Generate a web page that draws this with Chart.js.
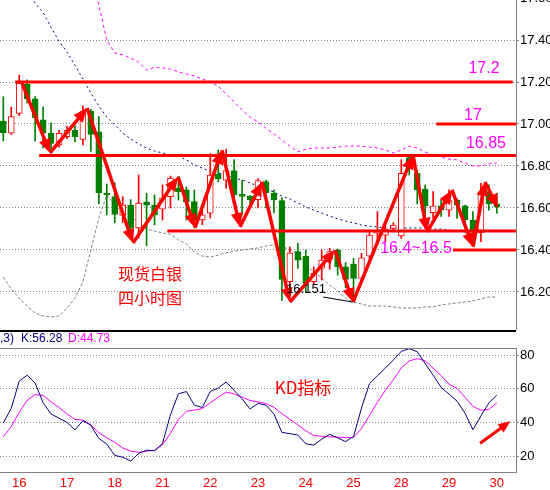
<!DOCTYPE html>
<html>
<head>
<meta charset="utf-8">
<script src="https://cdn.jsdelivr.net/npm/chart.js@4.4.0/dist/chart.umd.min.js"></script>
<style>
  html, body { margin: 0; padding: 0; background: #fff; }
  #wrap { position: relative; width: 550px; height: 490px; overflow: hidden; background: #fff; }
  #priceChart { position: absolute; left: 0; top: 0; }
  #kdChart { position: absolute; left: 0; top: 330px; }
</style>
</head>
<body>
<div id="wrap">
  <canvas id="priceChart" width="550" height="330"></canvas>
  <canvas id="kdChart" width="550" height="160"></canvas>
</div>
<script>
// 4 hour candles, 6 per trading day
const dayLabels = ['16', '17', '18', '21', '22', '23', '24', '25', '28', '29', '30'];
const dayStart = [2, 8, 14, 20, 26, 32, 38, 44, 50, 56, 62];

const opens = [17.014, 16.956, 17.05, 17.19, 17.12, 17.02, 16.956, 16.90, 16.94, 16.97,
  16.927, 17.06, 16.963, 16.67, 16.654, 16.565, 16.614, 16.505, 16.629, 16.614,
  16.595, 16.654, 16.695, 16.686, 16.63, 16.543, 16.575, 16.762, 16.733, 16.778,
  16.66, 16.657, 16.64, 16.726, 16.67, 16.635, 16.249, 16.392, 16.37, 16.249,
  16.313, 16.356, 16.40, 16.32, 16.333, 16.265, 16.37, 16.48, 16.47, 16.503,
  16.467, 16.84, 16.765, 16.69, 16.578, 16.61, 16.59, 16.638, 16.61, 16.543,
  16.483, 16.678, 16.62];
const highs = [17.13, 17.08, 17.233, 17.21, 17.13, 17.08, 17.006, 16.97, 16.99, 16.995,
  17.086, 17.07, 17.035, 16.714, 16.72, 16.654, 16.64, 16.757, 16.67, 16.662,
  16.71, 16.752, 16.75, 16.70, 16.686, 16.59, 16.86, 16.876, 16.88, 16.83,
  16.733, 16.66, 16.74, 16.733, 16.686, 16.648, 16.414, 16.432, 16.40, 16.32,
  16.40, 16.408, 16.405, 16.34, 16.36, 16.384, 16.495, 16.583, 16.53, 16.53,
  16.83, 16.85, 16.78, 16.71, 16.678, 16.638, 16.686, 16.646, 16.614, 16.583,
  16.717, 16.71, 16.67];
const lows = [16.92, 16.95, 17.04, 17.10, 16.92, 16.886, 16.868, 16.89, 16.93, 16.915,
  16.90, 16.87, 16.62, 16.567, 16.53, 16.53, 16.48, 16.457, 16.42, 16.52,
  16.543, 16.60, 16.638, 16.543, 16.505, 16.52, 16.552, 16.725, 16.694, 16.62,
  16.567, 16.62, 16.60, 16.60, 16.576, 16.16, 16.21, 16.313, 16.20, 16.233,
  16.257, 16.308, 16.28, 16.22, 16.165, 16.257, 16.36, 16.433, 16.44, 16.49,
  16.455, 16.757, 16.62, 16.543, 16.55, 16.56, 16.56, 16.55, 16.503, 16.424,
  16.44, 16.59, 16.575];
const closes = [16.959, 17.035, 17.195, 17.12, 17.03, 16.956, 16.908, 16.956, 16.97, 16.94,
  17.059, 16.95, 16.673, 16.662, 16.57, 16.614, 16.505, 16.624, 16.614, 16.567,
  16.648, 16.743, 16.678, 16.63, 16.543, 16.567, 16.757, 16.738, 16.778, 16.662,
  16.655, 16.64, 16.73, 16.673, 16.638, 16.26, 16.387, 16.352, 16.241, 16.289,
  16.352, 16.392, 16.32, 16.26, 16.265, 16.363, 16.471, 16.49, 16.50, 16.519,
  16.765, 16.80, 16.686, 16.61, 16.61, 16.59, 16.635, 16.614, 16.543, 16.487,
  16.673, 16.62, 16.605];

// bollinger bands
const bandUpper = [18.30, 18.25, 18.20, 18.15, 18.10, 18.05, 18.00, 17.95, 17.90, 17.85,
  17.80, 17.72, 17.567, 17.40, 17.338, 17.33, 17.314, 17.295, 17.257, 17.27,
  17.267, 17.262, 17.248, 17.238, 17.229, 17.214, 17.20, 17.18, 17.143, 17.105,
  17.067, 17.033, 17.01, 16.98, 16.952, 16.924, 16.895, 16.867, 16.88, 16.886,
  16.886, 16.886, 16.89, 16.895, 16.895, 16.895, 16.89, 16.886, 16.876, 16.862,
  16.876, 16.895, 16.886, 16.867, 16.852, 16.843, 16.833, 16.829, 16.814, 16.80,
  16.80, 16.81, 16.814];
const bandMid = [17.80, 17.74, 17.68, 17.63, 17.576, 17.53, 17.46, 17.395, 17.343, 17.28,
  17.214, 17.148, 17.086, 17.033, 16.995, 16.957, 16.929, 16.905, 16.886, 16.871,
  16.862, 16.852, 16.848, 16.829, 16.805, 16.79, 16.776, 16.767, 16.757, 16.743,
  16.733, 16.719, 16.705, 16.69, 16.676, 16.657, 16.643, 16.624, 16.605, 16.59,
  16.576, 16.562, 16.548, 16.538, 16.529, 16.519, 16.514, 16.51, 16.505, 16.505,
  16.505, 16.505, 16.505, 16.505, 16.50, 16.50, 16.495, 16.49, 16.486, 16.486,
  16.486, 16.49, 16.49];
const bandLower = [16.271, 16.214, 16.171, 16.133, 16.10, 16.086, 16.081, 16.086, 16.124, 16.171,
  16.248, 16.40, 16.552, 16.662, 16.614, 16.58, 16.557, 16.533, 16.50, 16.49,
  16.481, 16.476, 16.448, 16.429, 16.39, 16.371, 16.367, 16.376, 16.386, 16.395,
  16.40, 16.405, 16.41, 16.419, 16.424, 16.419, 16.40, 16.386, 16.329, 16.295,
  16.267, 16.233, 16.205, 16.171, 16.152, 16.143, 16.133, 16.133, 16.133, 16.129,
  16.124, 16.124, 16.124, 16.129, 16.129, 16.138, 16.143, 16.148, 16.152, 16.157,
  16.167, 16.176, 16.176];

// stochastic K / D
const kLine = [39.6, 48.4, 64.5, 68.0, 63.4, 51.7, 45.0, 42.5, 40.0, 35.5,
  41.0, 38.3, 30.5, 27.1, 20.4, 19.3, 17.0, 21.5, 23.5, 23.1,
  27.5, 44.5, 57.0, 58.3, 50.3, 48.8, 58.4, 60.4, 64.0, 59.0,
  54.0, 48.0, 51.3, 50.2, 45.0, 34.0, 33.3, 32.5, 27.3, 26.5,
  30.0, 32.9, 30.8, 28.6, 31.6, 48.5, 63.0, 67.7, 72.3, 77.1,
  82.2, 83.8, 82.0, 75.0, 68.0, 60.8, 56.8, 52.6, 45.5, 35.6,
  43.8, 51.5, 56.3];
const dLine = [31.5, 37.5, 46.0, 53.2, 56.5, 56.0, 52.2, 48.8, 45.1, 41.7,
  41.4, 38.5, 33.9, 30.9, 28.1, 24.8, 22.9, 22.2, 22.9, 23.4,
  26.7, 33.5, 41.8, 46.6, 47.3, 48.2, 51.6, 54.8, 58.0, 56.9,
  55.0, 53.0, 52.2, 51.2, 49.0, 45.2, 41.8, 38.6, 35.0, 32.2,
  31.7, 31.4, 31.2, 31.0, 31.0, 36.3, 44.0, 52.0, 59.0, 65.3,
  72.4, 76.5, 77.9, 76.6, 72.2, 67.8, 62.7, 60.2, 55.0, 49.5,
  47.2, 47.7, 51.5];

// hand drawn levels (price, from candle, to candle)
const levelPrice = [17.2, 17.0, 16.85, 16.49, 16.40];
const levelFrom = [1.5, 54.4, 4.5, 20.6, 56.5];
const levelTo = [64.0, 64.4, 64.4, 64.4, 64.4];

// zigzag arrows (candle position, price)
const swingIdx = [2.35, 5.87, 10.52, 16.29, 21.95, 24.08, 27.47, 29.74, 32.5, 36.0, 41.67, 43.93, 51.47, 53.23, 56.37, 59.01, 60.51, 62.15];
const swingPrice = [17.195, 16.862, 17.076, 16.433, 16.748, 16.505, 16.876, 16.51, 16.724, 16.152, 16.40, 16.152, 16.852, 16.486, 16.686, 16.414, 16.724, 16.60];

const trendIdx = [40.2, 43.9];
const trendPrice = [16.176, 16.152];

const kdArrowIdx = [59.9, 63.7];
const kdArrowVal = [27.6, 40.6];

const priceTicks = [16.2, 16.4, 16.6, 16.8, 17.0, 17.2, 17.4, 17.6];
const kdTicks = [20, 40, 60, 80];

const RED = '#ff0000';
const GREEN = '#008000';
const MAGENTA = '#ff00ff';
const NAVY = '#000080';
const GRID = '#808080';
const LATIN = "'Liberation Sans', Arial, sans-serif";
const CJK = "'Noto Sans CJK SC', sans-serif";

const xMin = -0.415;
const xMax = 64.41;

const priceNotes = [
  { text: '17.2', at: [60.39, 17.262], color: MAGENTA, font: '16px ' + LATIN },
  { text: '17', at: [59.01, 17.038], color: MAGENTA, font: '16px ' + LATIN },
  { text: '16.85', at: [60.64, 16.905], color: MAGENTA, font: '16px ' + LATIN },
  { text: '16.4~16.5', at: [51.85, 16.405], color: MAGENTA, font: '16px ' + LATIN },
  { text: '现货白银', at: [18.43, 16.286], color: RED, font: '16px ' + CJK },
  { text: '四小时图', at: [18.43, 16.171], color: RED, font: '16px ' + CJK },
  { text: '16.151', at: [38.03, 16.21], color: '#000', font: '13px ' + LATIN }
];
const kdNotes = [
  { text: 'KD指标', at: [37.65, 60.4], color: RED, font: '17px ' + CJK }
];

const idx = opens.map((_, i) => i);
const isUp = idx.map(i => closes[i] >= opens[i]);

function drawArrow(ctx, x1, y1, x2, y2, w, len, half) {
  const a = Math.atan2(y2 - y1, x2 - x1);
  const c = Math.cos(a), s = Math.sin(a);
  const bx = x2 - c * len, by = y2 - s * len;
  ctx.lineWidth = w;
  ctx.beginPath();
  ctx.moveTo(x1, y1);
  ctx.lineTo(bx + c * 2, by + s * 2);
  ctx.stroke();
  ctx.beginPath();
  ctx.moveTo(x2, y2);
  ctx.lineTo(bx - s * half, by + c * half);
  ctx.lineTo(bx + s * half, by - c * half);
  ctx.closePath();
  ctx.fill();
}

function drawNotes(ctx, xs, ys, notes) {
  ctx.textAlign = 'center';
  ctx.textBaseline = 'middle';
  notes.forEach(n => {
    ctx.font = n.font;
    ctx.fillStyle = n.color;
    ctx.fillText(n.text, xs.getPixelForValue(n.at[0]), ys.getPixelForValue(n.at[1]));
  });
}

const priceMarks = {
  id: 'priceMarks',
  afterDatasetsDraw(chart) {
    const { ctx, scales: { x, y } } = chart;
    ctx.save();
    ctx.strokeStyle = RED;
    ctx.fillStyle = RED;
    for (let k = 0; k < swingIdx.length - 1; k++) {
      drawArrow(ctx,
        x.getPixelForValue(swingIdx[k]), y.getPixelForValue(swingPrice[k]),
        x.getPixelForValue(swingIdx[k + 1]), y.getPixelForValue(swingPrice[k + 1]),
        3.5, 14, 6);
    }
    drawNotes(ctx, x, y, priceNotes);
    ctx.restore();
  }
};

const kdMarks = {
  id: 'kdMarks',
  afterDraw(chart) {
    const { ctx, chartArea: area, scales: { x, y } } = chart;
    ctx.save();
    ctx.fillStyle = '#000';
    ctx.fillRect(0, 0, area.right, 2);
    ctx.strokeStyle = GRID;
    ctx.lineWidth = 1;
    ctx.beginPath();
    ctx.moveTo(0, area.top + 0.5);
    ctx.lineTo(area.right, area.top + 0.5);
    ctx.stroke();

    // header
    ctx.font = '12px ' + LATIN;
    ctx.textBaseline = 'middle';
    ctx.fillStyle = NAVY;
    ctx.textAlign = 'right';
    ctx.fillText('(5,3,3)', 14, 9);
    ctx.textAlign = 'left';
    ctx.fillText('K:56.28', 21, 9);
    ctx.fillStyle = MAGENTA;
    ctx.fillText('D:44.73', 68, 9);

    ctx.strokeStyle = RED;
    ctx.fillStyle = RED;
    drawArrow(ctx,
      x.getPixelForValue(kdArrowIdx[0]), y.getPixelForValue(kdArrowVal[0]),
      x.getPixelForValue(kdArrowIdx[1]), y.getPixelForValue(kdArrowVal[1]),
      3, 12, 5);
    drawNotes(ctx, x, y, kdNotes);
    ctx.restore();
  }
};

function bandSet(values, color, dash) {
  return {
    type: 'line',
    data: idx.map(i => ({ x: i, y: values[i] })),
    borderColor: color,
    borderWidth: 1,
    borderDash: dash,
    pointRadius: 0,
    order: 10
  };
}

const levelSets = levelPrice.map((p, k) => ({
  type: 'line',
  data: [{ x: levelFrom[k], y: p }, { x: levelTo[k], y: p }],
  borderColor: RED,
  borderWidth: 3,
  pointRadius: 0,
  order: 2
}));

new Chart(document.getElementById('priceChart'), {
  type: 'bar',
  data: {
    datasets: [
      bandSet(bandUpper, MAGENTA, [3, 3]),
      bandSet(bandMid, NAVY, [2, 3]),
      bandSet(bandLower, GRID, [3, 2]),
      {
        type: 'bar',
        data: idx.map(i => ({ x: i, y: [lows[i], highs[i]] })),
        backgroundColor: idx.map(i => isUp[i] ? RED : GREEN),
        barThickness: 1,
        grouped: false,
        order: 9
      },
      {
        type: 'bar',
        data: idx.map(i => ({ x: i, y: [opens[i], closes[i]] })),
        backgroundColor: idx.map(i => isUp[i] ? '#ffffff' : GREEN),
        borderColor: idx.map(i => isUp[i] ? RED : GREEN),
        borderWidth: 1,
        borderSkipped: false,
        barThickness: 6,
        minBarLength: 2,
        grouped: false,
        order: 8
      },
      ...levelSets,
      {
        type: 'line',
        data: trendIdx.map((v, k) => ({ x: v, y: trendPrice[k] })),
        borderColor: '#000',
        borderWidth: 1,
        pointRadius: 0,
        order: 1
      }
    ]
  },
  options: {
    responsive: false,
    animation: false,
    events: [],
    layout: { padding: 0 },
    plugins: { legend: { display: false }, tooltip: { enabled: false } },
    scales: {
      x: {
        type: 'linear',
        min: xMin,
        max: xMax,
        offset: false,
        display: false,
        grid: { offset: false }
      },
      y: {
        position: 'right',
        min: 16.019,
        max: 17.5905,
        afterBuildTicks: s => { s.ticks = priceTicks.map(v => ({ value: v })); },
        afterFit: s => { s.width = 34; s.paddingTop = 0; s.paddingBottom = 0; },
        ticks: {
          color: '#000',
          padding: 1,
          font: { family: LATIN, size: 13 },
          callback: v => v.toFixed(2)
        },
        grid: { color: GRID, tickLength: 3, tickColor: GRID },
        border: { color: GRID, dash: [1, 2] }
      }
    }
  },
  plugins: [priceMarks]
});

new Chart(document.getElementById('kdChart'), {
  type: 'line',
  data: {
    datasets: [
      {
        data: idx.map(i => ({ x: i, y: kLine[i] })),
        borderColor: NAVY,
        borderWidth: 1,
        pointRadius: 0
      },
      {
        data: idx.map(i => ({ x: i, y: dLine[i] })),
        borderColor: MAGENTA,
        borderWidth: 1,
        pointRadius: 0
      }
    ]
  },
  options: {
    responsive: false,
    animation: false,
    events: [],
    layout: { padding: { top: 18, left: 0, right: 0, bottom: 0 } },
    plugins: { legend: { display: false }, tooltip: { enabled: false } },
    scales: {
      x: {
        type: 'linear',
        min: xMin,
        max: xMax,
        offset: false,
        afterBuildTicks: s => { s.ticks = dayStart.map(v => ({ value: v })); },
        afterFit: s => { s.height = 18; s.paddingLeft = 0; s.paddingRight = 0; },
        ticks: {
          autoSkip: false,
          maxRotation: 0,
          padding: 4,
          color: RED,
          font: { family: LATIN, size: 13 },
          callback: v => dayLabels[dayStart.indexOf(v)]
        },
        grid: { display: false, drawTicks: false },
        border: { display: true, color: GRID }
      },
      y: {
        position: 'right',
        min: 10.5,
        max: 84.2,
        afterBuildTicks: s => { s.ticks = kdTicks.map(v => ({ value: v })); },
        afterFit: s => { s.width = 34; s.paddingTop = 0; s.paddingBottom = 0; },
        ticks: {
          color: '#000',
          padding: 1,
          font: { family: LATIN, size: 13 },
          callback: v => String(v)
        },
        grid: { color: GRID, tickLength: 3, tickColor: GRID },
        border: { color: GRID, dash: [1, 2] }
      }
    }
  },
  plugins: [kdMarks]
});
</script>
</body>
</html>
